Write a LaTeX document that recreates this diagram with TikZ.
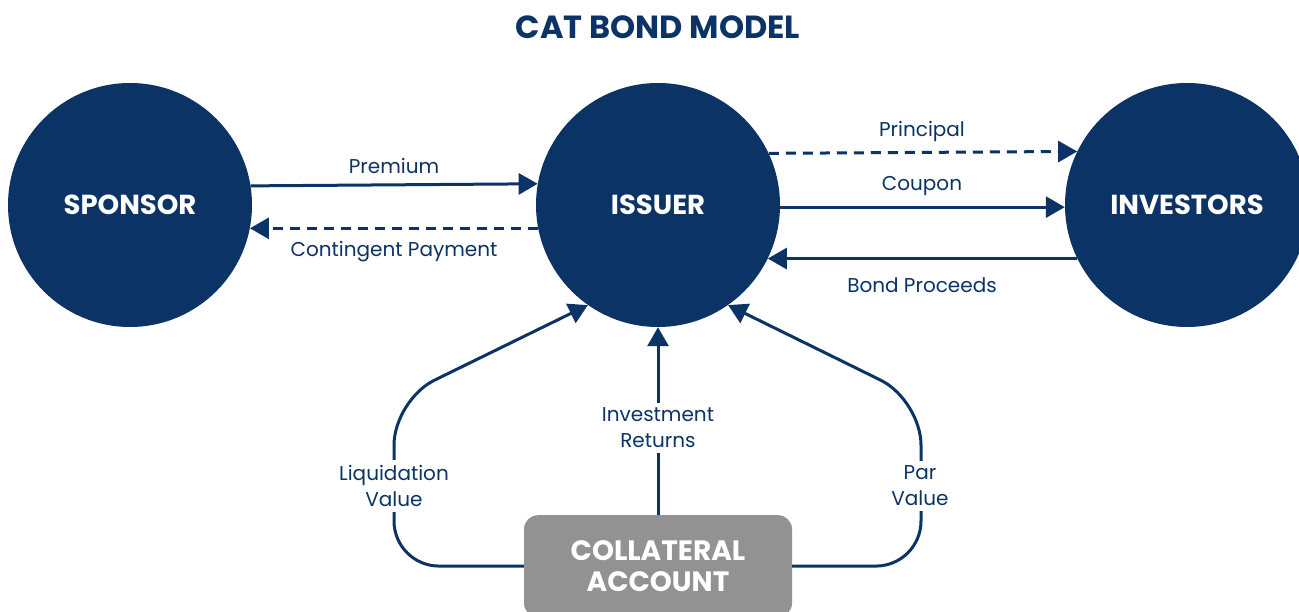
\documentclass[tikz,border=0pt]{standalone}
\usepackage{fontspec}
\setmainfont{Poppins}
\usetikzlibrary{arrows.meta}
\definecolor{navy}{RGB}{12,51,102}
\definecolor{boxgrey}{RGB}{146,146,147}
\tikzset{
  party/.style={circle, fill=navy, minimum size=244pt, inner sep=0pt,
    text=white, font=\fontsize{27.5}{30}\selectfont\bfseries},
  flow/.style={draw=navy, line width=3pt,
    -{Triangle[length=19pt,width=21pt]}},
  promise/.style={flow, dash pattern=on 10pt off 7pt},
  lbl/.style={text=navy, font=\fontsize{20}{26}\selectfont, align=center, inner sep=2pt},
  gaplbl/.style={lbl, fill=white, inner sep=5pt}
}
\begin{document}
\begin{tikzpicture}[x=1pt,y=-1pt]
\clip (0,0) rectangle (1299,612);
\fill[white] (0,0) rectangle (1299,612);

\node[text=navy, font=\fontsize{32}{34}\selectfont\bfseries] (title) at (658,27) {CAT BOND MODEL};

\node[party] (spo) at (130,205) {SPONSOR};
\node[party] (iss) at (658,205) {ISSUER};
\node[party] (inv) at (1187,205) {INVESTORS};

\node[rectangle, rounded corners=14pt, fill=boxgrey, minimum width=268pt,
  minimum height=102pt, anchor=north, text=white, align=center,
  font=\fontsize{28}{31}\selectfont\bfseries] (col) at (658,515) {COLLATERAL\\ACCOUNT};

% sponsor <-> issuer
\draw[flow] (spo.9.4) -- (iss.170.6);
\draw[promise] (iss.191.3) -- (spo.-11.3);
\node[lbl] (lprem) at (394,166) {Premium};
\node[lbl] (lcont) at (394,252) {Contingent Payment};

% issuer <-> investors
\draw[promise] (iss.25.2) -- (inv.154.8);
\draw[flow] (iss.-1) -- (inv.181);
\draw[flow] (inv.206.3) -- (iss.-26.3);
\node[lbl] (lprin) at (922,131) {Principal};
\node[lbl] (lcoup) at (922,186) {Coupon};
\node[lbl] (lbond) at (922,285) {Bond Proceeds};

% collateral account -> issuer
\draw[flow] (col.north) -- (iss.south);
\draw[flow, rounded corners=45pt] (col.west) -- (394,566) -- (394,400) -- (iss.-125);
\draw[flow, rounded corners=45pt] (col.east) -- (921,566) -- (921,400) -- (iss.-55);
\node[gaplbl] (linv) at (658,428) {Investment\\Returns};
\node[gaplbl] (lliq) at (394,486) {Liquidation\\Value};
\node[gaplbl] (lpar) at (920,486) {Par\\Value};
\end{tikzpicture}
\end{document}
